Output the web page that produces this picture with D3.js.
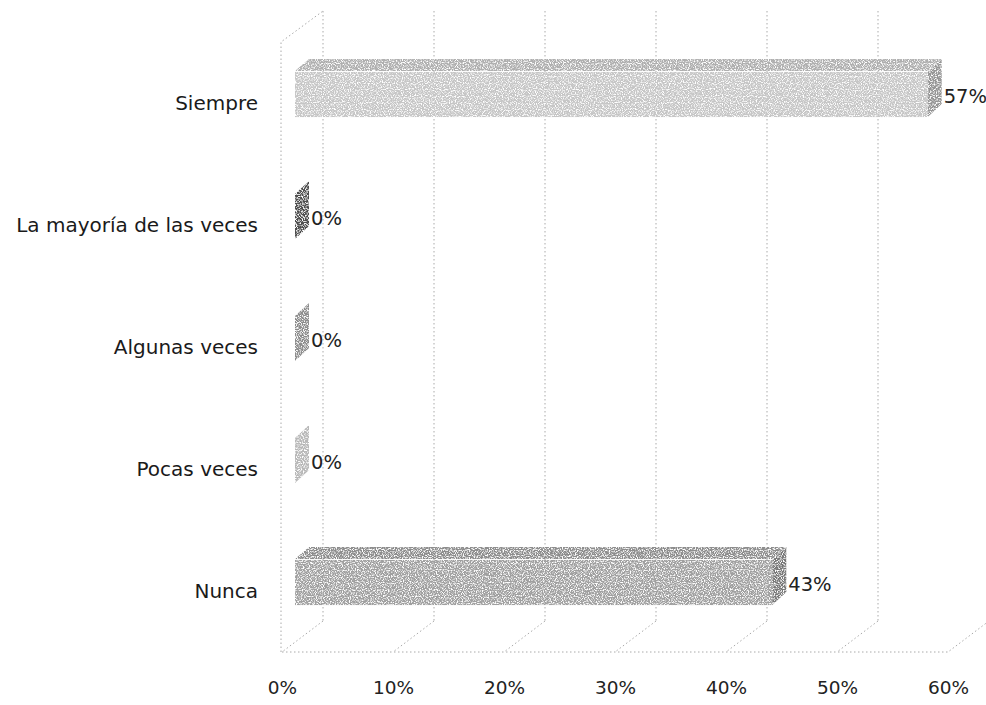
<!DOCTYPE html>
<html>
<head>
<meta charset="utf-8">
<script src="https://cdn.jsdelivr.net/npm/d3@7"></script>
<style>
  html, body { margin: 0; padding: 0; background: #ffffff; }
  svg { display: block; }
  text { font-family: "DejaVu Sans", sans-serif; }
</style>
</head>
<body>
<svg id="chart" width="986" height="705"></svg>
<script>
// Frequency answers, top to bottom
const categories = ["Siempre", "La mayoría de las veces", "Algunas veces", "Pocas veces", "Nunca"];
const values = [0.57, 0.00, 0.00, 0.00, 0.43];
const valueLabels = ["57%", "0%", "0%", "0%", "43%"];
const tickValues = [0, 0.1, 0.2, 0.3, 0.4, 0.5, 0.6];
const barColors = ["#c6c6c6", "#4e4e4e", "#8c8c8c", "#b8b8b8", "#a0a0a0"];

const svg = d3.select("#chart");

// Stippled, printed-look texture for the bar faces
const defs = svg.append("defs");
const grain = defs.append("filter").attr("id", "grain")
  .attr("x", 0).attr("y", 0).attr("width", "100%").attr("height", "100%");
grain.append("feTurbulence")
  .attr("type", "fractalNoise").attr("baseFrequency", 0.85)
  .attr("numOctaves", 1).attr("seed", 7).attr("result", "noise");
grain.append("feColorMatrix")
  .attr("in", "noise").attr("type", "matrix")
  .attr("values", "0 0 0 0 1  0 0 0 0 1  0 0 0 0 1  4.5 0 0 0 -2.1")
  .attr("result", "speck");
grain.append("feComposite")
  .attr("in", "speck").attr("in2", "SourceGraphic").attr("operator", "atop");

// Front plane of the 3-D box, plus the depth offset to the back wall
const x = d3.scaleLinear().domain([0, 0.6]).range([282, 948]);
const y = d3.scaleBand().domain(categories).range([42, 652]);
const depth = [41, -31];          // front plane -> back wall
const barShift = [13, -8.5];      // front plane -> front face of each bar
const barDepth = [14, -13];       // thickness of a bar
const barH = y.bandwidth() * 0.37;

const grid = svg.append("g")
  .attr("fill", "none")
  .attr("stroke", "#aaaaaa")
  .attr("stroke-width", 1)
  .attr("stroke-dasharray", "1.5,2.5");

// Back-wall gridlines
grid.selectAll("line.wall").data(tickValues).join("line")
  .attr("class", "wall")
  .attr("x1", d => x(d) + depth[0]).attr("x2", d => x(d) + depth[0])
  .attr("y1", y.range()[0] + depth[1]).attr("y2", y.range()[1] + depth[1]);

// Floor: slanted edges from the back wall to the front
grid.selectAll("line.floor").data(tickValues).join("line")
  .attr("class", "floor")
  .attr("x1", d => x(d) + depth[0]).attr("y1", y.range()[1] + depth[1])
  .attr("x2", d => x(d)).attr("y2", y.range()[1]);

// Floor front edge
grid.append("line")
  .attr("x1", x(0)).attr("x2", x(0.6))
  .attr("y1", y.range()[1]).attr("y2", y.range()[1]);

// Side wall: front vertical edge and top slanted edge
grid.append("path")
  .attr("d", `M${x(0) - 1},${y.range()[1]} V${y.range()[0]} L${x(0) + depth[0]},${y.range()[0] + depth[1]}`);

// Bars
const bars = svg.append("g").selectAll("g.bar")
  .data(categories.map((c, i) => ({ c, v: values[i], label: valueLabels[i], color: barColors[i] })))
  .join("g").attr("class", "bar");

bars.each(function (d) {
  const g = d3.select(this);
  const faces = g.append("g").attr("filter", "url(#grain)");
  const x0 = x(0) + barShift[0];
  const x1 = x(d.v) + barShift[0];
  const cy = y(d.c) + y.bandwidth() / 2 + barShift[1];
  const y0 = cy - barH / 2, y1 = cy + barH / 2;
  const base = d3.color(d.color);
  const [dx, dy] = barDepth;

  if (d.v > 0) {
    faces.append("rect")
      .attr("x", x0).attr("y", y0).attr("width", x1 - x0).attr("height", barH)
      .attr("fill", base.formatHex());
    faces.append("path")
      .attr("d", `M${x0},${y0 - 1} L${x1},${y0 - 1} L${x1 + dx},${y0 + dy} L${x0 + dx},${y0 + dy} Z`)
      .attr("fill", base.darker(0.35).formatHex());
  }
  faces.append("path")
    .attr("d", `M${x1},${y0} L${x1 + dx},${y0 + dy} L${x1 + dx},${y1 + dy} L${x1},${y1} Z`)
    .attr("fill", base.darker(d.v > 0 ? 0.8 : 0).formatHex());

  g.append("text")
    .attr("x", x1 + dx + 2)
    .attr("y", cy + 2)
    .attr("dy", "0.35em")
    .attr("font-size", 19.5)
    .attr("fill", "#222")
    .text(d.label);
});

// Category axis (left)
const yAxis = svg.append("g")
  .attr("transform", `translate(${258},0)`)
  .call(d3.axisLeft(y).tickSize(0).tickPadding(0));
yAxis.select(".domain").remove();
yAxis.selectAll("text")
  .attr("font-size", 20)
  .attr("fill", "#1a1a1a")
  .attr("dy", "0.36em")
  .style("font-family", "DejaVu Sans, sans-serif");

// Value axis (bottom)
const xAxis = svg.append("g")
  .attr("transform", `translate(0,${681})`)
  .call(d3.axisBottom(x).tickValues(tickValues).tickFormat(d3.format(".0%")).tickSize(0).tickPadding(0));
xAxis.select(".domain").remove();
xAxis.selectAll("text")
  .attr("font-size", 18.5)
  .attr("fill", "#222")
  .style("font-family", "DejaVu Sans, sans-serif");
</script>
</body>
</html>
